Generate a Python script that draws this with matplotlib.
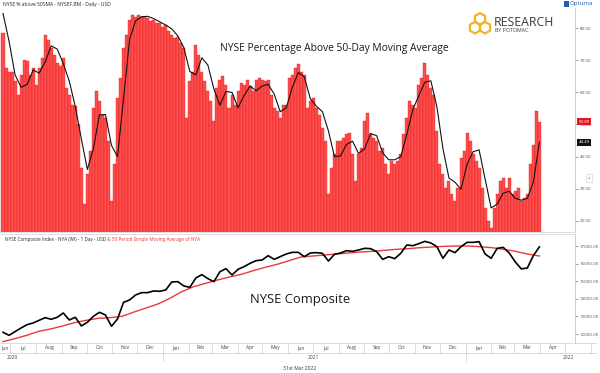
import matplotlib
matplotlib.use('Agg')
import matplotlib.pyplot as plt
from matplotlib.patches import RegularPolygon, Rectangle
import pandas as pd

# ---------------- data ----------------
start_date = '2020-06-22'
end_date = '2022-03-31'

pct_above_50 = [
    78.4, 67.6, 66.5, 66.5, 63.4, 59.3, 65.5, 70.2, 69.9, 65.5, 67.6, 62.4, 67.6, 70.7, 77.9, 76.4,
    73.8, 71.7, 69.1, 68.1, 70.7, 61.4, 59.3, 56.2, 55.7, 50.0, 36.5, 25.1, 34.5, 41.7, 55.2, 60.3,
    57.2, 53.1, 52.0, 44.8, 26.2, 37.6, 58.3, 64.5, 73.8, 77.9, 82.6, 84.1, 83.6, 84.1,
    83.6, 83.6, 83.1, 82.1, 82.6, 81.6, 81.6, 80.5, 81.0, 79.0, 77.9, 76.9, 77.4, 75.3, 73.8, 52.0,
    63.4, 66.5, 74.8, 71.7, 66.5, 63.4, 60.3, 57.2, 51.0, 61.4, 64.0, 65.0, 62.4, 55.2, 59.3, 56.2,
    60.3, 62.9, 62.4, 64.0, 61.9, 60.3, 64.0, 64.5, 64.0, 63.4, 64.0, 59.3, 55.2,
    54.1, 52.0, 56.2, 56.2, 64.5, 65.5, 67.6, 68.8, 66.5, 65.5, 55.2, 57.2, 58.3, 55.2, 53.1, 48.9,
    44.8, 28.2, 36.5, 40.7, 44.8, 44.8, 45.8, 46.9, 47.4, 40.7, 32.4, 40.7, 42.7, 51.0, 53.6, 46.9,
    45.8, 44.8, 41.7, 42.7, 37.6, 34.5, 38.6, 37.6, 38.6, 40.7, 46.9, 52.0,
    57.2, 56.2, 55.2, 62.4, 64.5, 69.1, 65.5, 61.4, 59.3, 47.9, 37.6, 34.5, 30.3, 32.4, 28.2, 26.2,
    30.3, 39.6, 41.7, 47.4, 44.8, 40.7, 38.6, 36.5, 30.3, 24.1, 20.0, 17.9, 24.1, 28.2, 32.4, 33.4,
    30.3, 33.4, 28.2, 29.3, 30.3, 26.2, 27.2, 28.2, 37.6, 43.7, 54.1, 50.89,
]

pct_above_ma = [
    84.6, 76.0, 65.5, 61.6, 62.5, 67.0, 66.0, 69.5, 74.5, 73.5, 69.0, 63.5, 55.5, 45.5, 36.0, 42.5,
    53.0, 53.1, 43.5, 40.0, 58.0, 76.5, 82.3, 83.6, 83.7, 83.0, 82.0, 81.0, 79.8, 77.6, 74.0, 66.5,
    65.5, 70.8, 68.5, 61.0, 56.0, 60.3, 60.0, 55.2, 59.0, 62.0, 60.5, 62.0, 62.5, 59.5, 54.0, 55.2,
    61.5, 66.2, 64.8, 58.0, 55.7, 54.0, 48.0, 40.0, 40.2, 43.8, 44.8, 41.0, 42.4, 47.2, 46.5, 41.2,
    39.0, 39.0, 40.0, 46.9, 54.6, 59.0, 63.2, 63.6, 55.5, 42.5, 33.3, 32.0, 29.8, 37.6, 41.5, 42.1,
    33.0, 24.0, 25.2, 28.6, 29.2, 27.0, 26.4, 27.0, 32.0, 44.49,
]

nya_close = [
    12097, 11927, 12135, 12343, 12532, 12627, 12779, 12930, 12836, 12949, 13195, 12798, 12949, 12457,
    12665, 13006, 13233, 13082, 12438, 12854, 13801, 13934, 14217, 14350, 14350, 14445, 14426, 14501,
    14956, 14975, 14729, 14653, 15183, 15372, 15145, 14975, 15542, 15713, 15353, 15675, 15826, 16016,
    16167, 16205, 16451, 16243, 16394, 16546, 16640, 16640,
    16394, 16603, 16622, 16584, 16148, 16527, 16603, 16735, 16697, 16773, 16868, 16849, 16678, 16243,
    16394, 16281, 16584, 17057, 17019, 17133, 17265, 17170, 16962, 16300, 16773, 16622, 16962, 17208,
    17208, 17246, 16546, 16300, 16868, 16924, 16600, 16100, 15700, 15750, 16450, 16950,
]

nya_sma50 = [
    11567, 11738, 11927, 12154, 12286, 12457, 12646, 12779, 12892, 12930, 13006, 13252, 13479, 13706,
    14028, 14407, 14691, 14880, 15069, 15240, 15391, 15599, 15789, 15959, 16167, 16375, 16432, 16489,
    16546, 16603, 16660, 16697, 16754, 16811, 16849, 16905, 16943, 16981, 17000, 17000, 16962, 16905,
    16811, 16697, 16546, 16432,
]

pct_ticks = [20, 30, 40, 50, 60, 70, 80]
nya_ticks = [12000, 13000, 14000, 15000, 16000, 17000]
month_labels = ['Jun', 'Jul', 'Aug', 'Sep', 'Oct', 'Nov', 'Dec', 'Jan', 'Feb', 'Mar', 'Apr', 'May',
                'Jun', 'Jul', 'Aug', 'Sep', 'Oct', 'Nov', 'Dec', 'Jan', 'Feb', 'Mar', 'Apr']
year_labels = ['2020', '2021', '2022']

# ---------------- layout helpers ----------------
W, H = 600, 373
PPD = 0.829  # pixels per calendar day
t0 = pd.Timestamp(start_date)


def rect(x0, y0, x1, y1):
    return [x0 / W, 1 - y1 / H, (x1 - x0) / W, (y1 - y0) / H]


def px_date(px):
    return t0 + pd.Timedelta(days=(px - 3) / PPD)


plt.rcParams['font.family'] = ['Open Sans', 'DejaVu Sans']

fig = plt.figure(figsize=(6, 3.73), dpi=100)
fig.patch.set_facecolor('white')

bar_dates = pd.date_range(start_date, end_date, periods=len(pct_above_50))
ma_dates = pd.date_range(start_date, end_date, periods=len(pct_above_ma))
nya_dates = pd.date_range(start_date, end_date, periods=len(nya_close))
sma_dates = pd.date_range(start_date, end_date, periods=len(nya_sma50))
bar_w = (bar_dates[1] - bar_dates[0]).total_seconds() / 86400.0

tick_col = '#555555'
TICK_FS = 3.2

# ---------------- top panel ----------------
ax1 = fig.add_axes(rect(0, 8, 575, 232))
ax1.bar(bar_dates, pct_above_50, width=bar_w, color='#ff4e4e', edgecolor='#d81010',
        linewidth=0.25, align='center')
ax1.plot(ma_dates, pct_above_ma, color='#111111', lw=0.8)
ax1.set_xlim(px_date(0), px_date(575))
ax1.set_ylim(16.5, 86.3)
ax1.yaxis.tick_right()
ax1.set_yticks(pct_ticks)
ax1.set_yticklabels([f'{v:.2f}' for v in pct_ticks])
ax1.tick_params(axis='y', labelsize=TICK_FS, colors=tick_col, length=2, width=0.4, pad=1.5)
ax1.set_xticks([])
for s in ['top', 'left']:
    ax1.spines[s].set_visible(False)
ax1.spines['right'].set_color('#c8c8c8')
ax1.spines['right'].set_linewidth(0.6)
ax1.spines['bottom'].set_color('#d0d0d0')
ax1.spines['bottom'].set_linewidth(0.5)

ax1.text(1.006, pct_above_50[-1], f'{pct_above_50[-1]:.2f}', transform=ax1.get_yaxis_transform(),
         fontsize=TICK_FS, color='white', ha='left', va='center', zorder=5,
         bbox=dict(boxstyle='square,pad=0.3', fc='#e8141b', ec='none'))
ax1.text(1.006, pct_above_ma[-1], f'{pct_above_ma[-1]:.2f}', transform=ax1.get_yaxis_transform(),
         fontsize=TICK_FS, color='white', ha='left', va='center', zorder=5,
         bbox=dict(boxstyle='square,pad=0.3', fc='#111111', ec='none'))

# ---------------- bottom panel ----------------
ax2 = fig.add_axes(rect(0, 234, 575, 343))
ax2.plot(sma_dates, nya_sma50, color='#e83a36', lw=1.0)
ax2.plot(nya_dates, nya_close, color='#000000', lw=1.2)
ax2.set_xlim(px_date(0), px_date(575))
ax2.set_ylim(11489, 17682)
ax2.yaxis.tick_right()
ax2.set_yticks(nya_ticks)
ax2.set_yticklabels([f'{v:.2f}' for v in nya_ticks])
ax2.tick_params(axis='y', labelsize=TICK_FS, colors=tick_col, length=2, width=0.4, pad=1.5)
ax2.set_xticks([])
for s in ['left', 'bottom']:
    ax2.spines[s].set_visible(False)
ax2.spines['top'].set_color('#d0d0d0')
ax2.spines['top'].set_linewidth(0.5)
ax2.spines['right'].set_color('#c8c8c8')
ax2.spines['right'].set_linewidth(0.6)

t1 = ax2.text(0.008, 0.975, 'NYSE Composite Index - NYA (WI) - 1 Day - USD', transform=ax2.transAxes,
              fontsize=3.3, color='#222222', ha='left', va='top')
ax2.annotate(' & 50 Period Simple Moving Average of NYA', xy=(1, 0), xycoords=t1,
             fontsize=3.3, color='#e8312f', ha='left', va='bottom')

# ---------------- month / year axis ----------------
axm = fig.add_axes(rect(0, 343, 597, 362))
xl0, xl1 = px_date(0), px_date(597)
axm.set_xlim(xl0, xl1)
axm.set_ylim(0, 2)
axm.axis('off')
axm.axhline(2, color='#cfcfcf', lw=0.5)
axm.axhline(1, color='#cfcfcf', lw=0.5)
axm.axhline(0.05, color='#cfcfcf', lw=0.5)
month_starts = pd.date_range('2020-06-01', '2022-06-01', freq='MS')
for ms in month_starts:
    if xl0 < ms < xl1:
        axm.plot([ms, ms], [1, 2], color='#cfcfcf', lw=0.5)
for lab, ms, me in zip(month_labels, month_starts[:-1], month_starts[1:]):
    a = max(ms, xl0)
    b = min(me, xl1)
    axm.text(a + (b - a) / 2, 1.5, lab, fontsize=3.5, color='#444444', ha='center', va='center')
for ys in [pd.Timestamp('2021-01-01'), pd.Timestamp('2022-01-01')]:
    axm.plot([ys, ys], [0.05, 1], color='#cfcfcf', lw=0.5)
axm.text(px_date(12), 0.5, year_labels[0], fontsize=3.5, color='#444444', ha='center', va='center')
axm.text(pd.Timestamp('2021-07-02'), 0.5, year_labels[1], fontsize=3.5, color='#444444', ha='center', va='center')
axm.text(px_date(568), 0.5, year_labels[2], fontsize=3.5, color='#444444', ha='center', va='center')

# ---------------- texts ----------------
fig.text(3 / W, 1 - 4.5 / H, 'NYSE % above 50SMA - NYSEF.BM - Daily - USD', fontsize=3.6,
         color='#222222', ha='left', va='center')
fig.text(334 / W, 1 - 48 / H, 'NYSE Percentage Above 50-Day Moving Average', fontsize=7.4,
         color='#1a1a1a', ha='center', va='center')
fig.text(300 / W, 1 - 300 / H, 'NYSE Composite', fontsize=9.4, color='#1a1a1a', ha='center', va='center')
fig.text(300 / W, 1 - 369 / H, '31st Mar 2022', fontsize=3.6, color='#333333', ha='center', va='center')

# Optuma badge
fig.text(570 / W, 1 - 4 / H, 'Optuma', fontsize=4.4, color='#1f5fae', ha='left', va='center')
fig.patches.append(Rectangle((563.5 / W, 1 - 7 / H), 5 / W, 5.5 / H, transform=fig.transFigure,
                             fc='#1f5fae', ec='none'))

# Research by Potomac logo
axl = fig.add_axes(rect(466, 11, 494, 37))
axl.set_xlim(-1.6, 1.6)
axl.set_ylim(-1.6, 1.6)
axl.set_aspect('equal')
axl.axis('off')
for cx, cy in [(0, 0.62), (-0.62, -0.45), (0.62, -0.45)]:
    axl.add_patch(RegularPolygon((cx, cy), 6, radius=0.72, orientation=0.0, fill=False,
                                 ec='#f0b323', lw=1.6))
fig.text(494 / W, 1 - 22 / H, 'RESEARCH', fontsize=8.8, color='#3b3b3b', ha='left', va='center',
         fontweight='medium')
fig.text(495 / W, 1 - 31 / H, 'BY POTOMAC', fontsize=3.8, color='#3b3b3b', ha='left', va='center')

# small collapse handle
fig.text(589 / W, 1 - 178 / H, '<', fontsize=3.4, color='#666666', ha='center', va='center',
         bbox=dict(boxstyle='square,pad=0.4', fc='white', ec='#cccccc', lw=0.4))

fig.savefig('out.png', dpi=100, facecolor='white')
